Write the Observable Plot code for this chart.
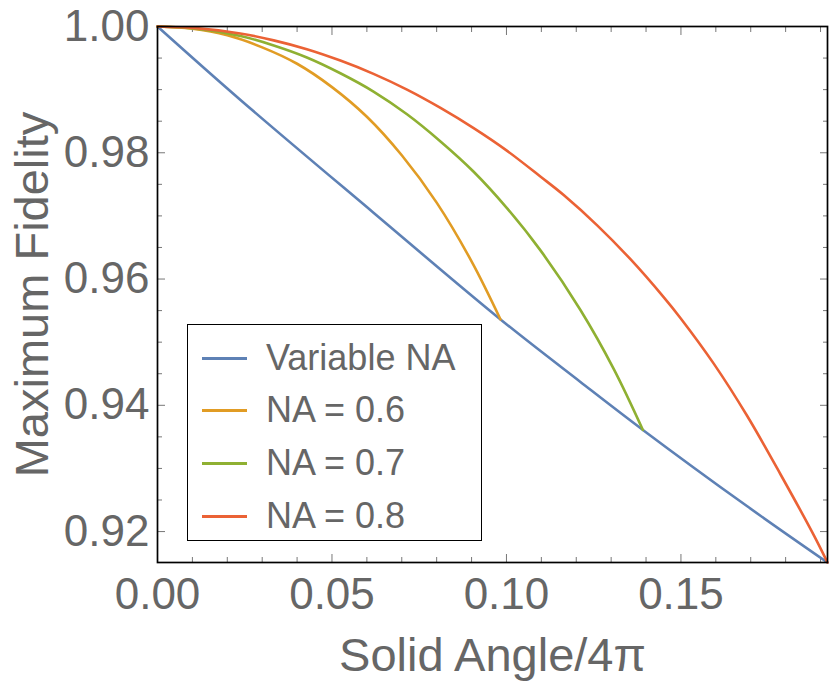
<!DOCTYPE html>
<html>
<head>
<meta charset="utf-8">
<script src="https://cdn.jsdelivr.net/npm/d3@7"></script>
<script src="https://cdn.jsdelivr.net/npm/@observablehq/plot@0.6"></script>
<style>
  body { margin: 0; background: #fff; }
  #wrap { position: relative; width: 830px; height: 685px; font-family: "Liberation Sans", Arial, sans-serif; }
  #legend { position: absolute; left: 187px; top: 324px; width: 295px; height: 217px; border: 1.6px solid #000; box-sizing: border-box; background: #fff; }
  .item { position: absolute; left: 0; height: 40px; display: flex; align-items: center; color: #666; font-size: 36px; white-space: nowrap; }
  .sw { width: 45px; height: 3px; margin-left: 14px; margin-right: 19px; }
</style>
</head>
<body>
<div id="wrap"><div id="chart"></div><div id="legend"></div></div>
<script>
// ---- data ----
const seriesNames = ["Variable NA", "NA = 0.6", "NA = 0.7", "NA = 0.8"];
const seriesColors = ["#5E81B5", "#E19C24", "#8FB032", "#EB6235"];

const xVariable = [0, 0.0237, 0.0619, 0.0983, 0.1212, 0.1391, 0.1690, 0.192];
const yVariable = [1, 0.9884, 0.9705, 0.9536, 0.9437, 0.9361, 0.9240, 0.9151];

const xNA06 = [0, 0.01, 0.02, 0.03, 0.04, 0.05, 0.06, 0.07, 0.08, 0.09, 0.0983];
const yNA06 = [1, 0.99965, 0.9986, 0.9967, 0.9941, 0.9904, 0.9857, 0.9796, 0.9721, 0.9628, 0.9536];

const xNA07 = [0, 0.0118, 0.0238, 0.0333, 0.0428, 0.0524, 0.0619, 0.0715, 0.0811, 0.0906, 0.1002, 0.1098, 0.1212, 0.1308, 0.1391];
const yNA07 = [1, 0.9996, 0.9985, 0.9970, 0.9951, 0.9926, 0.9897, 0.9861, 0.9818, 0.9770, 0.9712, 0.9645, 0.9551, 0.9457, 0.9361];

const xNA08 = [0, 0.0118, 0.0237, 0.0333, 0.0428, 0.0524, 0.0619, 0.0715, 0.0811, 0.0906, 0.1002, 0.1098, 0.1164, 0.1260, 0.1356, 0.1451, 0.1499, 0.1594, 0.1690, 0.1786, 0.1881, 0.192];
const yNA08 = [1, 0.9997, 0.9989, 0.9978, 0.9964, 0.9946, 0.9925, 0.9900, 0.9871, 0.9839, 0.9803, 0.9762, 0.9733, 0.9685, 0.9631, 0.9571, 0.9538, 0.9466, 0.9383, 0.9290, 0.9194, 0.9151];

const xDomain = [0, 0.192];
const yDomain = [0.9151, 1.0];
const xMajorTicks = [0, 0.05, 0.10, 0.15];
const xMinorTicks = [0.01, 0.02, 0.03, 0.04, 0.06, 0.07, 0.08, 0.09, 0.11, 0.12, 0.13, 0.14, 0.16, 0.17, 0.18, 0.19];
const yMajorTicks = [0.92, 0.94, 0.96, 0.98, 1.00];
const yMinorTicks = [0.925, 0.93, 0.935, 0.945, 0.95, 0.955, 0.965, 0.97, 0.975, 0.985, 0.99, 0.995];
const xTitle = "Solid Angle/4π";
const yTitle = "Maximum Fidelity";

// ---- build table ----
const xs = [xVariable, xNA06, xNA07, xNA08];
const ys = [yVariable, yNA06, yNA07, yNA08];
const rows = [];
seriesNames.forEach((name, i) => xs[i].forEach((x, j) => rows.push({series: name, x, y: ys[i][j]})));

const fmt = d3.format(".2f");
const tickColor = "#777";

const chart = Plot.plot({
  width: 830,
  height: 685,
  marginLeft: 157,
  marginRight: 3,
  marginTop: 26,
  marginBottom: 123,
  style: {fontFamily: '"Liberation Sans", Arial, sans-serif', color: "#666", background: "#fff"},
  x: {domain: xDomain},
  y: {domain: yDomain},
  color: {domain: seriesNames, range: seriesColors},
  marks: [
    // inward minor and major ticks on all four sides
    Plot.axisX(xMinorTicks, {anchor: "bottom", tickSize: -5, tickFormat: () => "", label: null, stroke: tickColor}),
    Plot.axisX(xMajorTicks, {anchor: "bottom", tickSize: -8, tickFormat: () => "", label: null, stroke: tickColor}),
    Plot.axisX(xMinorTicks, {anchor: "top", tickSize: -5, tickFormat: () => "", label: null, stroke: tickColor}),
    Plot.axisX(xMajorTicks, {anchor: "top", tickSize: -8, tickFormat: () => "", label: null, stroke: tickColor}),
    Plot.axisY(yMinorTicks, {anchor: "left", tickSize: -5, tickFormat: () => "", label: null, stroke: tickColor}),
    Plot.axisY(yMajorTicks, {anchor: "left", tickSize: -8, tickFormat: () => "", label: null, stroke: tickColor}),
    Plot.axisY(yMinorTicks, {anchor: "right", tickSize: -5, tickFormat: () => "", label: null, stroke: tickColor}),
    Plot.axisY(yMajorTicks, {anchor: "right", tickSize: -8, tickFormat: () => "", label: null, stroke: tickColor}),
    // tick labels
    Plot.axisX(xMajorTicks, {anchor: "bottom", tickSize: 0, tickPadding: 15, tickFormat: fmt, fontSize: 44, label: null}),
    Plot.axisY(yMajorTicks, {anchor: "left", tickSize: 0, tickPadding: 8, tickFormat: fmt, fontSize: 44, label: null}),
    // axis titles
    Plot.axisX([], {anchor: "bottom", tickSize: 0, fontSize: 47,
      label: xTitle, labelAnchor: "center", labelArrow: "none", labelOffset: 108}),
    Plot.axisY([], {anchor: "left", tickSize: 0, fontSize: 47,
      label: yTitle, labelAnchor: "center", labelArrow: "none", labelOffset: 143}),
    Plot.line(rows, {x: "x", y: "y", z: "series", stroke: "series", strokeWidth: 2.6, curve: "catmull-rom"}),
    Plot.frame({stroke: "#000", strokeWidth: 1.7})
  ]
});
document.getElementById("chart").appendChild(chart);

// legend (inside the frame, as in the reference)
const legend = document.getElementById("legend");
const centers = [33, 85, 138, 191];
seriesNames.forEach((name, i) => {
  const it = document.createElement("div");
  it.className = "item";
  it.style.top = (centers[i] - 20) + "px";
  const sw = document.createElement("div");
  sw.className = "sw";
  sw.style.background = seriesColors[i];
  const tx = document.createElement("span");
  tx.textContent = name;
  it.appendChild(sw); it.appendChild(tx);
  legend.appendChild(it);
});
</script>
</body>
</html>
